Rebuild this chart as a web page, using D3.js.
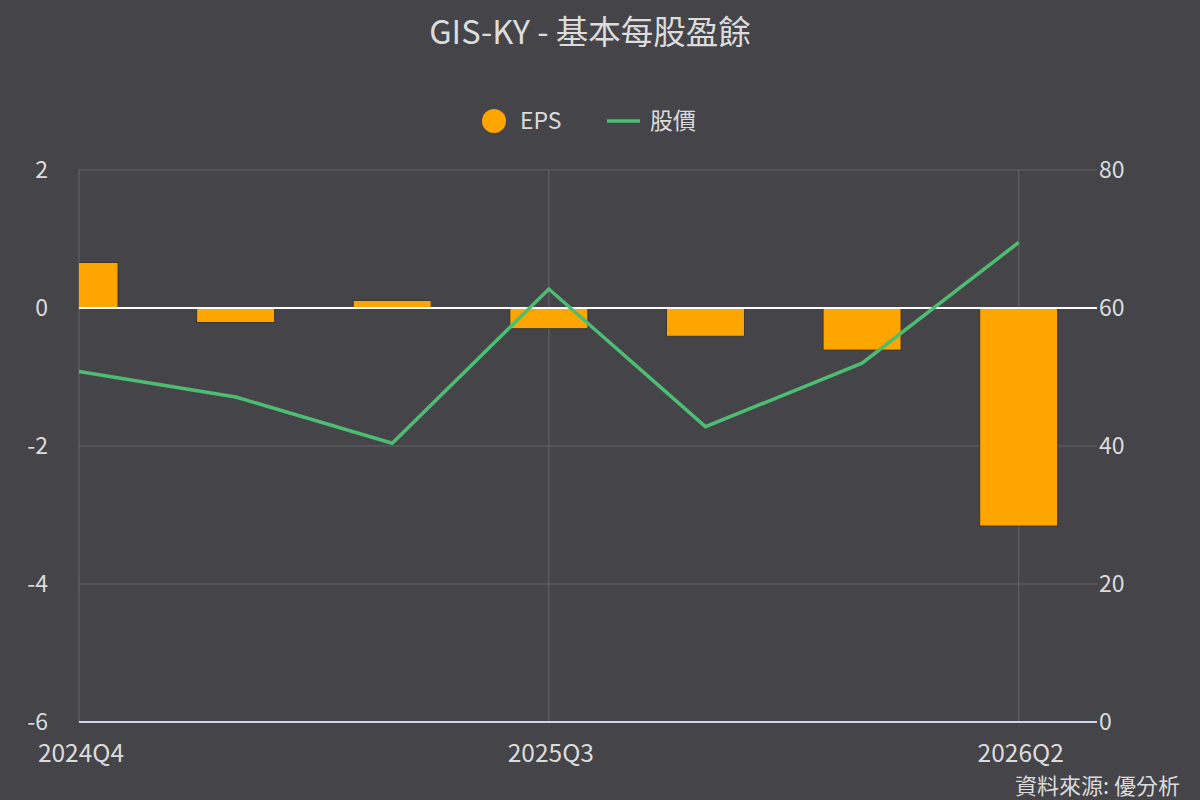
<!DOCTYPE html>
<html><head><meta charset="utf-8">
<script src="https://cdn.jsdelivr.net/npm/d3@7"></script>
<style>
html,body{margin:0;padding:0;background:#454449;}
svg{display:block;font-family:"Noto Sans CJK TC","Noto Sans",sans-serif;}
</style></head>
<body>
<svg id="chart" width="1200" height="800"></svg>
<script>
const categories = ["2024Q4","2025Q1","2025Q2","2025Q3","2025Q4","2026Q1","2026Q2"];
const epsValues = [0.66, -0.21, 0.11, -0.30, -0.41, -0.61, -3.16];
const priceValues = [50.8, 47.1, 40.4, 62.75, 42.8, 52.0, 69.5];
const leftTicks = [2, 0, -2, -4, -6];
const rightTicks = [80, 60, 40, 20, 0];
const xTickCategories = ["2024Q4","2025Q3","2026Q2"];
const titleText = "GIS-KY - 基本每股盈餘";
const legendLabels = ["EPS", "股價"];
const sourceText = "資料來源: 優分析";

const W = 1200, H = 800;
const plot = {left: 79, right: 1097, top: 170, bottom: 722};
const svg = d3.select("#chart");
const textColor = "#dcdcdc";
const gridColor = "#66656a";
const epsColor = "#FFA500";
const priceColor = "#4dbd74";

const x = d3.scaleLinear().domain([0, categories.length - 0.5]).range([plot.left, plot.right]);
const yL = d3.scaleLinear().domain([-6, 2]).range([plot.bottom, plot.top]);
const yR = d3.scaleLinear().domain([0, 80]).range([plot.bottom, plot.top]);
const xi = c => x(categories.indexOf(c));

svg.append("defs").append("clipPath").attr("id","clip")
  .append("rect").attr("x", plot.left).attr("y", plot.top)
  .attr("width", plot.right - plot.left).attr("height", plot.bottom - plot.top);

// title
svg.append("text").attr("x", 590).attr("y", 44).attr("text-anchor","middle")
  .attr("fill", textColor).attr("font-size", 32.5).text(titleText);

// horizontal grid
svg.append("g").selectAll("line").data(leftTicks.filter(d => d !== 0 && d !== -6)).join("line")
  .attr("x1", plot.left).attr("x2", plot.right)
  .attr("y1", d => yL(d)).attr("y2", d => yL(d))
  .attr("stroke", gridColor).attr("stroke-width", 1);

// vertical grid
svg.append("g").selectAll("line").data(xTickCategories).join("line")
  .attr("x1", d => xi(d)).attr("x2", d => xi(d))
  .attr("y1", plot.top).attr("y2", plot.bottom)
  .attr("stroke", gridColor).attr("stroke-width", 1);

// bars
const bw = 78;
svg.append("g").attr("clip-path","url(#clip)").selectAll("rect").data(epsValues).join("rect")
  .attr("x", (d,i) => x(i) - bw/2)
  .attr("width", bw)
  .attr("y", d => yL(Math.max(0, d)))
  .attr("height", d => Math.abs(yL(d) - yL(0)))
  .attr("fill", epsColor)
  .attr("stroke", "#3a3530").attr("stroke-width", 1);

// zero line
svg.append("line").attr("x1", plot.left).attr("x2", plot.right)
  .attr("y1", yL(0)).attr("y2", yL(0)).attr("stroke", "#ffffff").attr("stroke-width", 2);

// bottom axis line
svg.append("line").attr("x1", plot.left).attr("x2", plot.right)
  .attr("y1", plot.bottom).attr("y2", plot.bottom).attr("stroke", "#ccd6eb").attr("stroke-width", 2);

// price line
const line = d3.line().x((d,i) => x(i)).y(d => yR(d));
svg.append("path").datum(priceValues).attr("d", line)
  .attr("fill","none").attr("stroke", priceColor).attr("stroke-width", 3.5)
  .attr("stroke-linejoin","miter");

// left axis labels
svg.append("g").selectAll("text").data(leftTicks).join("text")
  .attr("x", 48).attr("y", d => yL(d) + 8).attr("text-anchor","end")
  .attr("fill", textColor).attr("font-size", 23).text(d => d);

// right axis labels
svg.append("g").selectAll("text").data(rightTicks).join("text")
  .attr("x", 1099).attr("y", d => yR(d) + 8).attr("text-anchor","start")
  .attr("fill", textColor).attr("font-size", 23).text(d => d);

// x labels
svg.append("g").selectAll("text").data(xTickCategories).join("text")
  .attr("x", d => xi(d) + 2).attr("y", 762).attr("text-anchor","middle")
  .attr("fill", textColor).attr("font-size", 24.5).text(d => d);

// legend
const lg = svg.append("g");
lg.append("circle").attr("cx", 494).attr("cy", 121).attr("r", 12).attr("fill", epsColor);
lg.append("text").attr("x", 520).attr("y", 129).attr("fill", textColor).attr("font-size", 23).text(legendLabels[0]);
lg.append("line").attr("x1", 607).attr("x2", 640).attr("y1", 121).attr("y2", 121)
  .attr("stroke", priceColor).attr("stroke-width", 3.5);
lg.append("text").attr("x", 650).attr("y", 129).attr("fill", textColor).attr("font-size", 23).text(legendLabels[1]);

// source
svg.append("text").attr("x", 1180).attr("y", 794).attr("text-anchor","end")
  .attr("fill", textColor).attr("font-size", 22).text(sourceText);
</script>
</body></html>
